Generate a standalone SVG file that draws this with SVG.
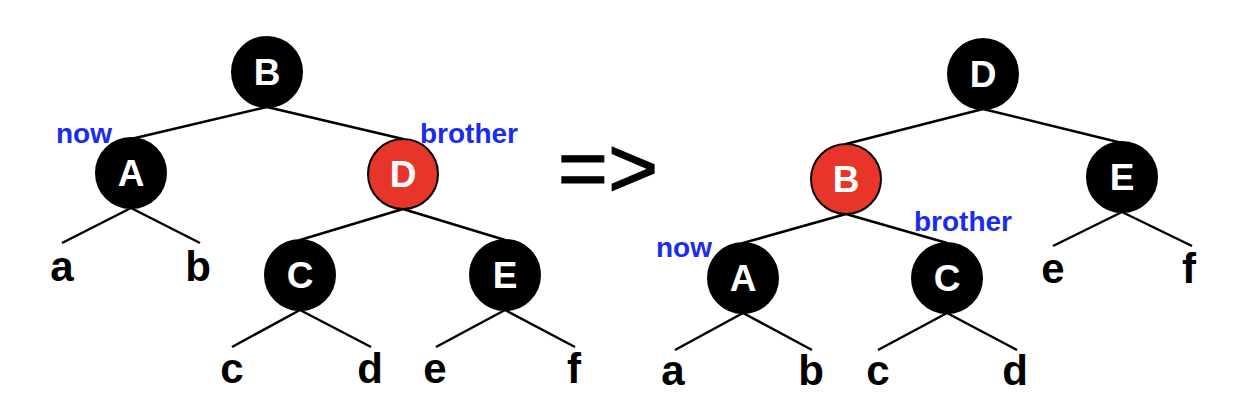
<svg xmlns="http://www.w3.org/2000/svg" width="1252" height="408" viewBox="0 0 1252 408">
<style>
.edge{stroke:#000;stroke-width:2.5;fill:none}
.blk{fill:#000;stroke:#000;stroke-width:2}
.red{fill:#E8352A;stroke:#000;stroke-width:2}
.nt{font-family:"Liberation Sans",Arial,sans-serif;font-weight:bold;font-size:37px;fill:#fff;text-anchor:middle}
.leaf{font-family:"Liberation Sans",Arial,sans-serif;font-weight:bold;font-size:42px;fill:#000;text-anchor:middle}
.lbl{font-family:"Liberation Sans",Arial,sans-serif;font-weight:bold;font-size:28px;fill:#1a2cf0;text-anchor:middle}
.arr{font-family:"Liberation Sans",Arial,sans-serif;font-weight:normal;font-size:86px;fill:#000;stroke:#000;stroke-width:1.2;text-anchor:middle}
</style>
<rect width="1252" height="408" fill="#fff"/>
<g id="connectors">
<line class="edge" x1="267" y1="107" x2="131" y2="139"/>
<line class="edge" x1="267" y1="107" x2="403" y2="139"/>
<line class="edge" x1="131" y1="208" x2="62" y2="243"/>
<line class="edge" x1="131" y1="208" x2="200" y2="243"/>
<line class="edge" x1="403" y1="209" x2="300" y2="240"/>
<line class="edge" x1="403" y1="209" x2="505" y2="240"/>
<line class="edge" x1="300" y1="310" x2="232" y2="347"/>
<line class="edge" x1="300" y1="310" x2="371" y2="347"/>
<line class="edge" x1="505" y1="310" x2="436" y2="347"/>
<line class="edge" x1="505" y1="310" x2="575" y2="347"/>
<line class="edge" x1="983" y1="109" x2="846" y2="144"/>
<line class="edge" x1="983" y1="109" x2="1122" y2="143"/>
<line class="edge" x1="846" y1="214" x2="743" y2="243"/>
<line class="edge" x1="846" y1="214" x2="947" y2="243"/>
<line class="edge" x1="1122" y1="212" x2="1053" y2="246"/>
<line class="edge" x1="1122" y1="212" x2="1192" y2="246"/>
<line class="edge" x1="743" y1="313" x2="675" y2="350"/>
<line class="edge" x1="743" y1="313" x2="812" y2="350"/>
<line class="edge" x1="947" y1="313" x2="878" y2="350"/>
<line class="edge" x1="947" y1="313" x2="1017" y2="350"/>
</g>
<g id="L-B"><circle class="blk" cx="267" cy="72" r="35"/><text class="nt" x="267" y="85">B</text></g>
<g id="L-A"><circle class="blk" cx="131" cy="173" r="35"/><text class="nt" x="131" y="186">A</text></g>
<g id="L-D"><circle class="red" cx="403" cy="174" r="35"/><text class="nt" x="403" y="187">D</text></g>
<g id="L-C"><circle class="blk" cx="300" cy="275" r="35"/><text class="nt" x="300" y="288">C</text></g>
<g id="L-E"><circle class="blk" cx="505" cy="275" r="35"/><text class="nt" x="505" y="288">E</text></g>
<g id="L-leaves">
<text class="leaf" x="62" y="281">a</text>
<text class="leaf" x="198" y="281">b</text>
<text class="leaf" x="232" y="383">c</text>
<text class="leaf" x="370" y="383">d</text>
<text class="leaf" x="435" y="383">e</text>
<text class="leaf" x="574" y="383">f</text>
</g>
<g id="L-labels">
<text class="lbl" x="84" y="143">now</text>
<text class="lbl" x="469" y="143">brother</text>
</g>
<g id="arrow"><text class="arr" x="608" y="197">=&gt;</text></g>
<g id="R-D"><circle class="blk" cx="983" cy="74" r="35"/><text class="nt" x="983" y="87">D</text></g>
<g id="R-B"><circle class="red" cx="846" cy="179" r="35"/><text class="nt" x="846" y="192">B</text></g>
<g id="R-E"><circle class="blk" cx="1122" cy="177" r="35"/><text class="nt" x="1122" y="190">E</text></g>
<g id="R-A"><circle class="blk" cx="743" cy="278" r="35"/><text class="nt" x="743" y="291">A</text></g>
<g id="R-C"><circle class="blk" cx="947" cy="278" r="35"/><text class="nt" x="947" y="291">C</text></g>
<g id="R-leaves">
<text class="leaf" x="1053" y="283">e</text>
<text class="leaf" x="1189" y="283">f</text>
<text class="leaf" x="673" y="385">a</text>
<text class="leaf" x="811" y="385">b</text>
<text class="leaf" x="878" y="385">c</text>
<text class="leaf" x="1015" y="385">d</text>
</g>
<g id="R-labels">
<text class="lbl" x="684" y="257">now</text>
<text class="lbl" x="963" y="231">brother</text>
</g>
</svg>
